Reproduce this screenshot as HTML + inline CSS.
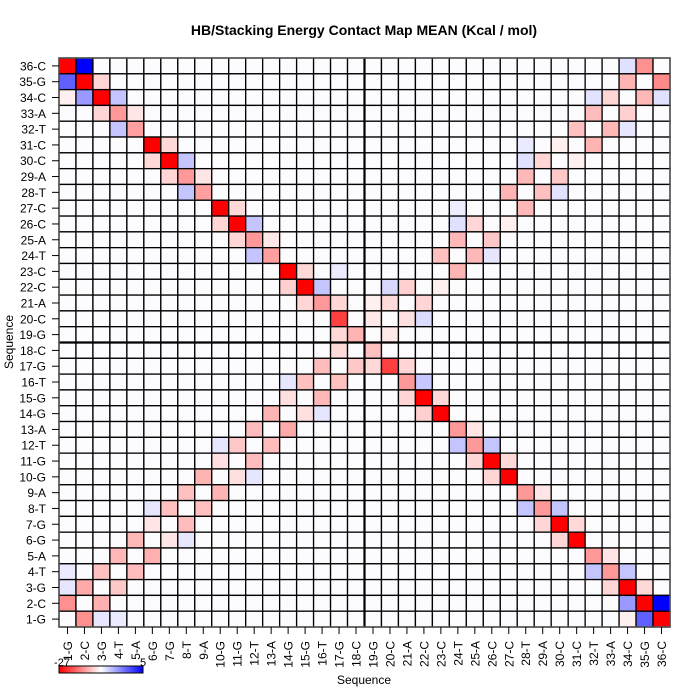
<!DOCTYPE html>
<html><head><meta charset="utf-8"><style>body{margin:0;background:#fff}svg{display:block}text{font-family:"Liberation Sans",Arial,sans-serif}</style></head>
<body>
<svg id="s" width="700" height="700" xmlns="http://www.w3.org/2000/svg">
<defs><linearGradient id="g" x1="0" x2="1"><stop offset="0" stop-color="#ff0000"/><stop offset="0.5" stop-color="#ffffff"/><stop offset="1" stop-color="#0000ff"/></linearGradient></defs>
<text x="364" y="35" text-anchor="middle" font-size="14" font-weight="bold">HB/Stacking Energy Contact Map MEAN (Kcal / mol)</text>
<g id="cells"></g>
<text x="364" y="684" text-anchor="middle" font-size="12">Sequence</text>
<text transform="translate(13,342) rotate(-90)" text-anchor="middle" font-size="12">Sequence</text>
<rect x="59" y="666" width="84" height="7" fill="url(#g)" stroke="#000" stroke-width="1"/>
<text x="62" y="666" text-anchor="middle" font-size="11">-27</text>
<text x="143" y="666" text-anchor="middle" font-size="11">5</text>
</svg>
<script>
var seq="1-G,2-C,3-G,4-T,5-A,6-G,7-G,8-T,9-A,10-G,11-G,12-T,13-A,14-G,15-G,16-T,17-G,18-C,19-G,20-C,21-A,22-C,23-C,24-T,25-A,26-C,27-C,28-T,29-A,30-C,31-C,32-T,33-A,34-C,35-G,36-C".split(",");
var X0=59,Y0=58,W=611/36,H=569/36,R="#ff0000";
var M={};
function q(r0,c0,arr){for(var i=0;i<arr.length;i++){var a=arr[i];for(var j=1;j<a.length;j+=2)M[(r0+a[0])+","+(c0+a[j])]=a[j+1];}}
q(0,0,[[0,0,R,1,"#0000ff"],[1,0,"#6060ff",1,R,2,"#ffd5d5"],[2,0,"#fff0f0",1,"#9999ff",2,R,3,"#c4c4ff"],[3,2,"#ffd5d5",3,"#ff9999",4,"#ffe5e5"],[4,3,"#c4c4ff",4,"#ff9f9f"],[5,5,R,6,"#ffd8d8"],[6,5,"#ffd8d8",6,R,7,"#c4c4ff"],[7,6,"#ffd5d5",7,"#ff9898",8,"#ffe5e5"],[8,7,"#c4c4ff",8,"#ff9f9f"],[9,9,R,10,"#ffd8d8"],[10,9,"#ffd5d5",10,R,11,"#c4c4ff"],[11,10,"#ffd5d5",11,"#ff9898",12,"#ffe8e8"],[12,11,"#c4c4ff",12,"#ff9f9f"],[13,13,R,14,"#ffd8d8",16,"#ebebff"],[14,13,"#ffd0d0",14,R,15,"#c4c4ff"],[15,14,"#ffd5d5",15,"#ff9898",16,"#ffd5d5"],[16,16,"#ff4040"],[17,16,"#ffd8d8",17,"#ffb4b4"]]);
q(0,18,[[0,15,"#e0e0ff",16,"#ff9090"],[1,15,"#ffb4b4",17,"#ff8a8a"],[2,13,"#e3e3ff",14,"#ffd5d5",16,"#ffb8b8",17,"#e0e0ff"],[3,13,"#ffbcbc",15,"#ffd0d0"],[4,12,"#ffc0c0",14,"#ffb8b8",15,"#e6e6ff"],[5,9,"#ebebff",11,"#fff0f0",13,"#ffb4b4"],[6,9,"#e0e0ff",10,"#ffd5d5",12,"#fff0f0"],[7,9,"#ffb8b8",11,"#ffc8c8"],[8,8,"#ffb4b4",10,"#ffc0c0",11,"#e3e3ff"],[9,5,"#ededff",9,"#ffb8b8"],[10,5,"#e0e0ff",6,"#ffd5d5",8,"#fff0f0"],[11,5,"#ffb8b8",7,"#ffc8c8"],[12,4,"#ffc0c0",6,"#ffb8b8",7,"#e6e6ff"],[13,5,"#ffb4b4"],[14,1,"#d8d8ff",2,"#ffd0d0",4,"#fff0f0"],[15,0,"#fff0f0",1,"#ffdada",3,"#ffd5d5"],[16,0,"#ffe8e8",2,"#ffe0e0",3,"#dcdcff"],[17,1,"#ffe8e8"]]);
q(18,0,[[0,16,"#ffdada"],[1,15,"#ffbcbc",17,"#ffc8c8"],[2,13,"#e6e6ff",14,"#ffc0c0",16,"#ffc0c0"],[3,13,"#ffe0e0",15,"#ffb8b8"],[4,12,"#ffb4b4",14,"#ffe0e0",15,"#e6e6ff"],[5,11,"#ffbcbc",13,"#ffaaaa"],[6,9,"#e6e6ff",10,"#ffc8c8",12,"#ffbcbc"],[7,9,"#ffe0e0",11,"#ffbcbc"],[8,8,"#ffb4b4",10,"#ffe0e0",11,"#e6e6ff"],[9,7,"#ffc0c0",9,"#ffb4b4"],[10,5,"#e6e6ff",6,"#ffc0c0",8,"#ffc0c0"],[11,5,"#ffe5e5",7,"#ffbcbc"],[12,4,"#ffb8b8",6,"#ffe5e5",7,"#e6e6ff"],[13,3,"#ffb8b8",5,"#ffb0b0"],[14,0,"#ebebff",2,"#ffc0c0",4,"#ffbcbc"],[15,0,"#e6e6ff",1,"#ffaaaa",3,"#ffc8c8"],[16,0,"#ff9090",2,"#ffb0b0"],[17,1,"#ff9090",2,"#e6e6ff",3,"#ebebff"]]);
q(18,18,[[0,0,"#ffc0c0"],[1,0,"#ffd8d8",1,"#ff4040",2,"#ffd5d5"],[2,2,"#ff9898",3,"#c8c8ff"],[3,2,"#ffd5d5",3,R,4,"#ffd8d8"],[4,3,"#ffd0d0",4,R],[5,5,"#ff9898",6,"#ffe5e5"],[6,5,"#c4c4ff",6,"#ff9898",7,"#c4c4ff"],[7,6,"#ffd5d5",7,R,8,"#ffd8d8"],[8,7,"#ffd5d5",8,R],[9,9,"#ff9898",10,"#ffe5e5"],[10,9,"#c4c4ff",10,"#ff9898",11,"#c4c4ff"],[11,10,"#ffd5d5",11,R,12,"#ffd8d8"],[12,11,"#ffd5d5",12,R],[13,13,"#ff9898",14,"#ffe5e5"],[14,13,"#c4c4ff",14,"#ff9898",15,"#c4c4ff"],[15,14,"#ffd5d5",15,R,16,"#ffd8d8"],[16,15,"#9999ff",16,R,17,"#0000ff"],[17,15,"#fff0f0",16,"#6060ff",17,R]]);
var h="";
for(var r=0;r<36;r++)for(var c=0;c<36;c++){var f=M[r+","+c]||"#fcfcff";h+='<rect x="'+(X0+c*W).toFixed(2)+'" y="'+(Y0+r*H).toFixed(2)+'" width="'+W.toFixed(2)+'" height="'+H.toFixed(2)+'" fill="'+f+'" stroke="#000" stroke-width="1.3"/>';}
h+='<line x1="'+(X0+18*W)+'" y1="'+Y0+'" x2="'+(X0+18*W)+'" y2="'+(Y0+569)+'" stroke="#000" stroke-width="2.2"/>';
h+='<line x1="'+X0+'" y1="'+(Y0+18*H)+'" x2="'+(X0+611)+'" y2="'+(Y0+18*H)+'" stroke="#000" stroke-width="2.2"/>';
h+='<rect x="'+X0+'" y="'+Y0+'" width="611" height="569" fill="none" stroke="#555" stroke-width="1.5"/>';
for(var i=0;i<36;i++){var y=Y0+(i+0.5)*H;h+='<line x1="52" y1="'+y+'" x2="59" y2="'+y+'" stroke="#000"/><text x="46" y="'+(y+4.5)+'" text-anchor="end" font-size="12">'+seq[35-i]+'</text>';
var x=X0+(i+0.5)*W;h+='<line x1="'+x+'" y1="627" x2="'+x+'" y2="634" stroke="#000"/><text transform="translate('+(x+4.5)+',641) rotate(-90)" text-anchor="end" font-size="12">'+seq[i]+'</text>';}
document.getElementById("cells").innerHTML=h;
</script>
</body></html>
